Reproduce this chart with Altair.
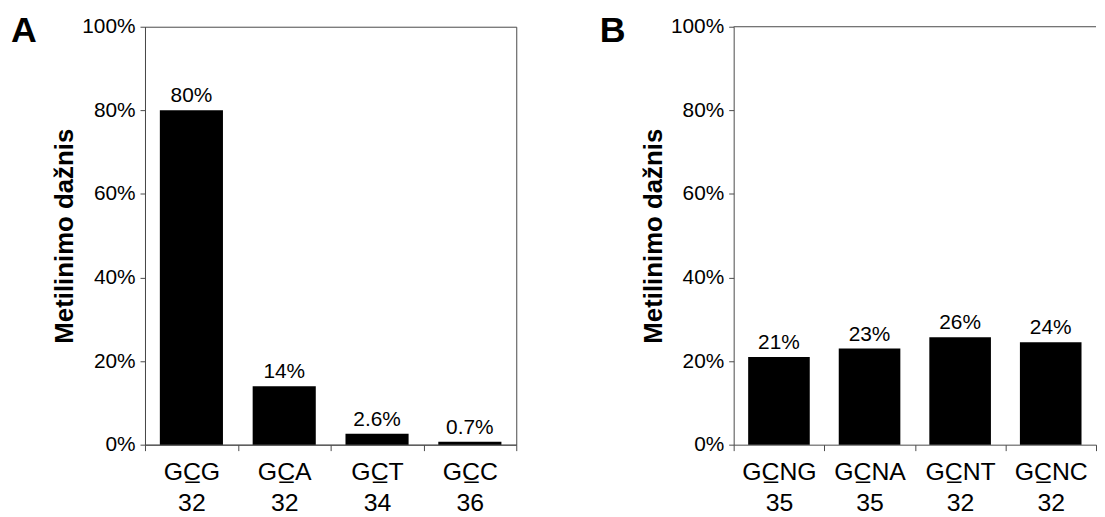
import altair as alt
import pandas as pd

# ---- data ----
codons_a = ["GC\u0332G", "GC\u0332A", "GC\u0332T", "GC\u0332C"]
counts_a = [32, 32, 34, 36]
values_a = [0.80, 0.14, 0.026, 0.007]
labels_a = ["80%", "14%", "2.6%", "0.7%"]

codons_b = ["GC\u0332NG", "GC\u0332NA", "GC\u0332NT", "GC\u0332NC"]
counts_b = [35, 35, 32, 32]
values_b = [0.21, 0.23, 0.257, 0.245]
labels_b = ["21%", "23%", "26%", "24%"]

panel_letters = ["A", "B"]
y_ticks = [0, 0.2, 0.4, 0.6, 0.8, 1.0]
y_title = "Metilinimo dažnis"

FONT = "Liberation Sans"
AX = "#4a4a4a"
H = 421


def panel(letter, codons, counts, values, labels, width, frame):
    df = pd.DataFrame({
        "cat": [f"{c}\n{n}" for c, n in zip(codons, counts)],
        "v": values,
        "lab": labels,
    })
    order = list(df["cat"])
    x = alt.X("cat:N", sort=order, title=None,
              scale=alt.Scale(paddingInner=0, paddingOuter=0),
              axis=alt.Axis(labelAngle=0, labelExpr="split(datum.label, '\\n')",
                            tickBand="extent"))
    y = alt.Y("v:Q", scale=alt.Scale(domain=[0, 1]),
              axis=alt.Axis(values=y_ticks, format=".0%", title=y_title, grid=False))
    base = alt.Chart(df)
    bars = base.mark_bar(color="black", width={"band": 0.68}).encode(x=x, y=y)
    text = base.mark_text(baseline="bottom", dy=-4, fontSize=21, font=FONT,
                          color="black").encode(x=x, y=y, text="lab:N")
    let = alt.Chart(pd.DataFrame({"t": [letter]})).mark_text(
        align="left", baseline="alphabetic", fontSize=36, fontWeight="bold",
        font=FONT, color="black").encode(text="t:N", x=alt.value(-135), y=alt.value(15))
    layers = [bars, text, let]
    if not frame:
        top = alt.Chart(pd.DataFrame({"t": [0]})).mark_rule(color=AX).encode(y=alt.datum(1.0))
        layers.append(top)
    return alt.layer(*layers).properties(
        width=width, height=H,
        view=alt.ViewBackground(stroke=AX if frame else "transparent"))


pa = panel(panel_letters[0], codons_a, counts_a, values_a, labels_a, 374, True)
pb = panel(panel_letters[1], codons_b, counts_b, values_b, labels_b, 365, False)

chart = alt.hconcat(pa, pb, spacing=82).properties(
    padding={"left": 2, "top": 2, "right": 0, "bottom": 0}
).configure_axis(
    labelFont=FONT, titleFont=FONT, labelColor="black", titleColor="black",
    domainColor=AX, tickColor=AX, labelFontSize=21
).configure_axisX(
    labelFontSize=25, labelLineHeight=31, labelPadding=9, tickSize=6
).configure_axisY(
    tickSize=5, labelPadding=5, titleFontSize=26, titleFontWeight="bold", titlePadding=4
)

chart.save("out.html", embed_options={"renderer": "svg", "actions": False})
